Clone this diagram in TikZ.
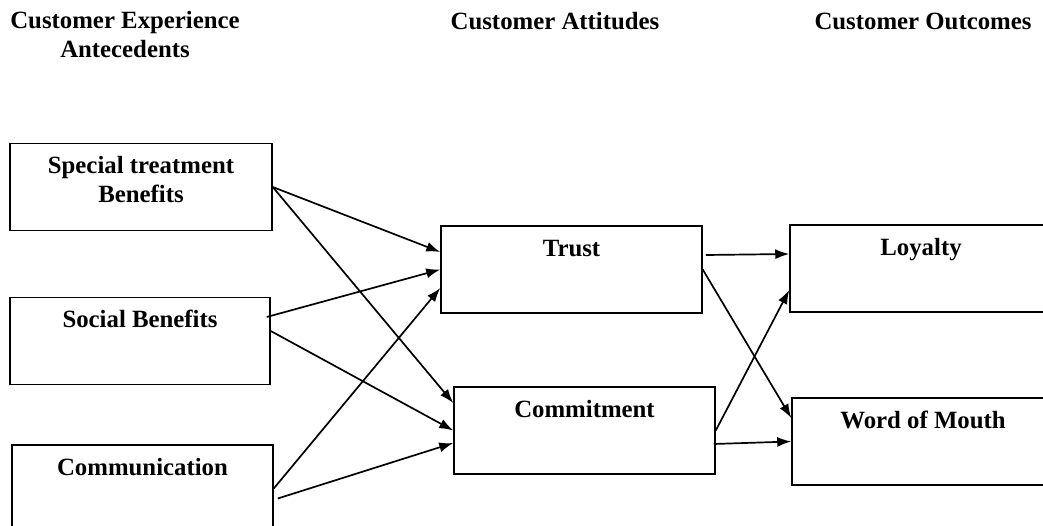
\documentclass[tikz,border=0pt]{standalone}
\usepackage{fontspec}
\setmainfont{Liberation Serif}
\usepackage{tikz}
\usetikzlibrary{arrows.meta,positioning}

\tikzset{
  txt/.style={font=\bfseries\fontsize{24.8}{29}\selectfont, align=center, inner sep=0pt},
  box/.style={draw, line width=1.5pt, minimum width=262pt, minimum height=87pt, inner sep=0pt},
  lbl/.style={txt, anchor=base},
  conn/.style={line width=1.7pt, ->}
}

\begin{document}
\begin{tikzpicture}[x=1pt,y=-1pt,>={Latex[length=14pt,width=10pt]}]
        \useasboundingbox (0,0) rectangle (1043,526);
        \clip (0,0) rectangle (1043,526);
        % column titles (base of a two-line node is its last line)
        \node[lbl] (hant) at (125,58) {Customer Experience\\Antecedents};
        \node[lbl] (hatt) at (555,30) {Customer Attitudes};
        \node[lbl] (hout) at (923,30) {Customer Outcomes};
        % boxes
        \node[box] (spec) at (141,187) {};
        \node[box, minimum width=260pt] (soc) at (140,341) {};
        \node[box, minimum width=261pt] (comm) at (142.5,488.5) {};
        \node[box, minimum width=261pt] (trust) at (571.5,269.5) {};
        \node[box, minimum width=261pt] (commit) at (584.5,430.5) {};
        \node[box] (loyal) at (921,268.5) {};
        \node[box] (wom) at (923,441.5) {};
        \node[lbl] at ([yshift=-60pt]spec.north) {Special treatment\\Benefits};
        \node[lbl] at ([yshift=-31pt]soc.north) {Social Benefits};
        \node[lbl] at ([yshift=-31pt]comm.north) {Communication};
        \node[lbl] at ([yshift=-31pt]trust.north) {Trust};
        \node[lbl] at ([yshift=-31pt]commit.north) {Commitment};
        \node[lbl] at ([yshift=-31pt]loyal.north) {Loyalty};
        \node[lbl] at ([yshift=-31pt]wom.north) {Word of Mouth};
        % antecedents -> attitudes
        \draw[conn] (spec.east) -- ([yshift=17.5pt]trust.west);
        \draw[conn] (spec.east) -- ([yshift=27.5pt]commit.west);
        \draw[conn] ([xshift=-4pt,yshift=24pt]soc.east) -- (trust.west);
        \draw[conn] ([yshift=10pt]soc.east) -- (commit.west);
        \draw[conn] (comm.east) -- ([yshift=-18.5pt]trust.west);
        \draw[conn] ([xshift=4pt,yshift=-10pt]comm.east) -- ([yshift=-12.5pt]commit.west);
        % attitudes -> outcomes
        \draw[conn] ([xshift=3pt,yshift=14.5pt]trust.east) -- ([yshift=14.5pt]loyal.west);
        \draw[conn] (trust.east) -- ([yshift=23.5pt]wom.west);
        \draw[conn] (commit.east) -- ([yshift=-21.5pt]loyal.west);
        \draw[conn] ([xshift=-2pt,yshift=-13.5pt]commit.east) -- (wom.west);
\end{tikzpicture}
\end{document}
